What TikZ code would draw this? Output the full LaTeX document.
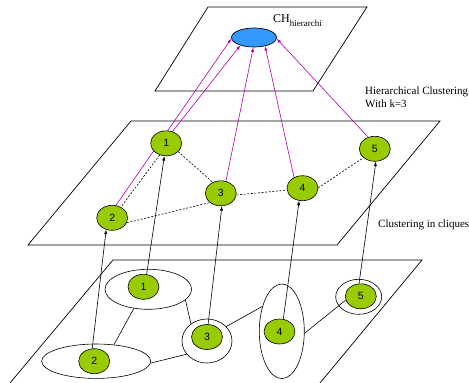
\documentclass[tikz,border=0pt]{standalone}
\usepackage{fontspec}
\setmainfont{Liberation Serif}
\newfontfamily\arialfont{Liberation Sans}
\usetikzlibrary{shapes.geometric,arrows.meta}
\pgfdeclarelayer{bg}
\pgfsetlayers{bg,main}
\definecolor{leafgreen}{RGB}{153,204,0}
\definecolor{rootblue}{RGB}{51,153,255}
\definecolor{hiermag}{RGB}{176,0,176}
\tikzset{
  plane/.style={draw=black, line width=0.7pt},
  gnode/.style={ellipse, draw=black, line width=0.6pt, fill=leafgreen,
    minimum width=31pt, minimum height=25pt, inner sep=0pt,
    font=\arialfont\fontsize{10.5}{12}\selectfont},
  cluster/.style={ellipse, draw=black, line width=0.6pt, inner sep=0pt},
  link/.style={draw=black, line width=0.6pt},
  dlink/.style={draw=black, line width=0.6pt, dash pattern=on 2pt off 1.6pt},
  liftarrow/.style={draw=black, line width=0.6pt, -{Latex[length=4.5pt,width=3.2pt]}},
  hierarrow/.style={draw=hiermag, line width=0.6pt, -{Latex[length=4.5pt,width=3.2pt]}},
  caption/.style={anchor=base west, inner sep=0pt, font=\fontsize{11}{13}\selectfont}
}
\begin{document}
\begin{tikzpicture}[x=1pt,y=-1pt]
\useasboundingbox (0,0) rectangle (469,383);

% --- top plane with the hierarchical cluster
\node[ellipse, draw=black, line width=0.7pt, fill=rootblue, minimum width=45pt,
      minimum height=19pt, inner sep=0pt] (root) at (254,37.5) {};
\node[anchor=base west, inner sep=0pt] (chlabel) at (273,22)
  {\fontsize{12}{14}\selectfont CH\raisebox{-4pt}{\fontsize{9}{10}\selectfont hierarchi}};

% --- middle plane: cliques as single nodes
\node[gnode] (m1) at (166.2,143.3) {1};
\node[gnode] (m2) at (112.2,217.8) {2};
\node[gnode] (m3) at (220.8,193.3) {3};
\node[gnode] (m4) at (302.5,188.2) {4};
\node[gnode] (m5) at (374.8,148.8) {5};

% --- bottom plane: cliques around the original nodes
\node[cluster, minimum width=86.6pt, minimum height=40pt] (e1) at (148.3,289.3) {};
\node[cluster, minimum width=109pt, minimum height=34.4pt] (e2) at (96.2,361.2) {};
\node[cluster, minimum width=50pt, minimum height=44pt] (e3) at (207,341) {};
\node[cluster, minimum width=45pt, minimum height=94.6pt] (e4) at (281.8,331.3) {};
\node[cluster, minimum width=46pt, minimum height=35pt] (e5) at (358.7,296.8) {};

\node[gnode] (b1) at (143.5,286.8) {1};
\node[gnode] (b2) at (94.2,361.2) {2};
\node[gnode] (b3) at (207,337) {3};
\node[gnode] (b4) at (279.5,331.5) {4};
\node[gnode] (b5) at (360.8,296.3) {5};

% --- captions
\node[caption] (cap1) at (365,94) {Hierarchical Clustering};
\node[caption] (cap2) at (365,107.5) {With k=3};
\node[caption] (cap3) at (378,227.3) {Clustering in cliques};

\begin{pgfonlayer}{bg}
  % planes
  \draw[plane] (155,91) -- (208,7) -- (367,7) -- (313,91) -- cycle;
  \draw[plane] (28,245) -- (131,121) -- (440,121) -- (337,245) -- cycle;
  \draw[plane] (10,383) -- (113,260) -- (422,260) -- (320,383);

  % links between cliques on the bottom plane
  \draw[link] (e1.233) -- (e2.43);
  \draw[link] (e1.344) -- (e3.133);
  \draw[link] (e2.358) -- (e3.213);
  \draw[link] (e3.37) -- (e4.128);
  \draw[link] (e4.355) -- (b5.194);

  % links between clique nodes on the middle plane
  \draw[dlink] (m1.241) -- (m2.51);
  \draw[dlink] (m1.325) -- (m3.126);
  \draw[dlink] (m2.341) -- (m3.220);
  \draw[dlink] (m3.354) -- (m4.187);
  \draw[dlink] (m4.1) -- (m5.218);

  % each clique lifted to the middle plane
  \draw[liftarrow] (b2.99) -- (m2.243);
  \draw[liftarrow] (b1.76) -- (m1.262);
  \draw[liftarrow] (b3.85) -- (m3.275);
  \draw[liftarrow] (b4.73) -- (m4.255);
  \draw[liftarrow] (b5.98) -- (m5.275);

  % middle plane nodes merged into the hierarchical cluster
  \draw[hierarrow] (m2.73) -- (root.183);
  \draw[hierarrow] (m1.62) -- (root.210);
  \draw[hierarrow] (m3.67) -- (root.266);
  \draw[hierarrow] (m4.128) -- (root.322);
  \draw[hierarrow] (m5.120) -- (root.357);
\end{pgfonlayer}
\end{tikzpicture}
\end{document}
